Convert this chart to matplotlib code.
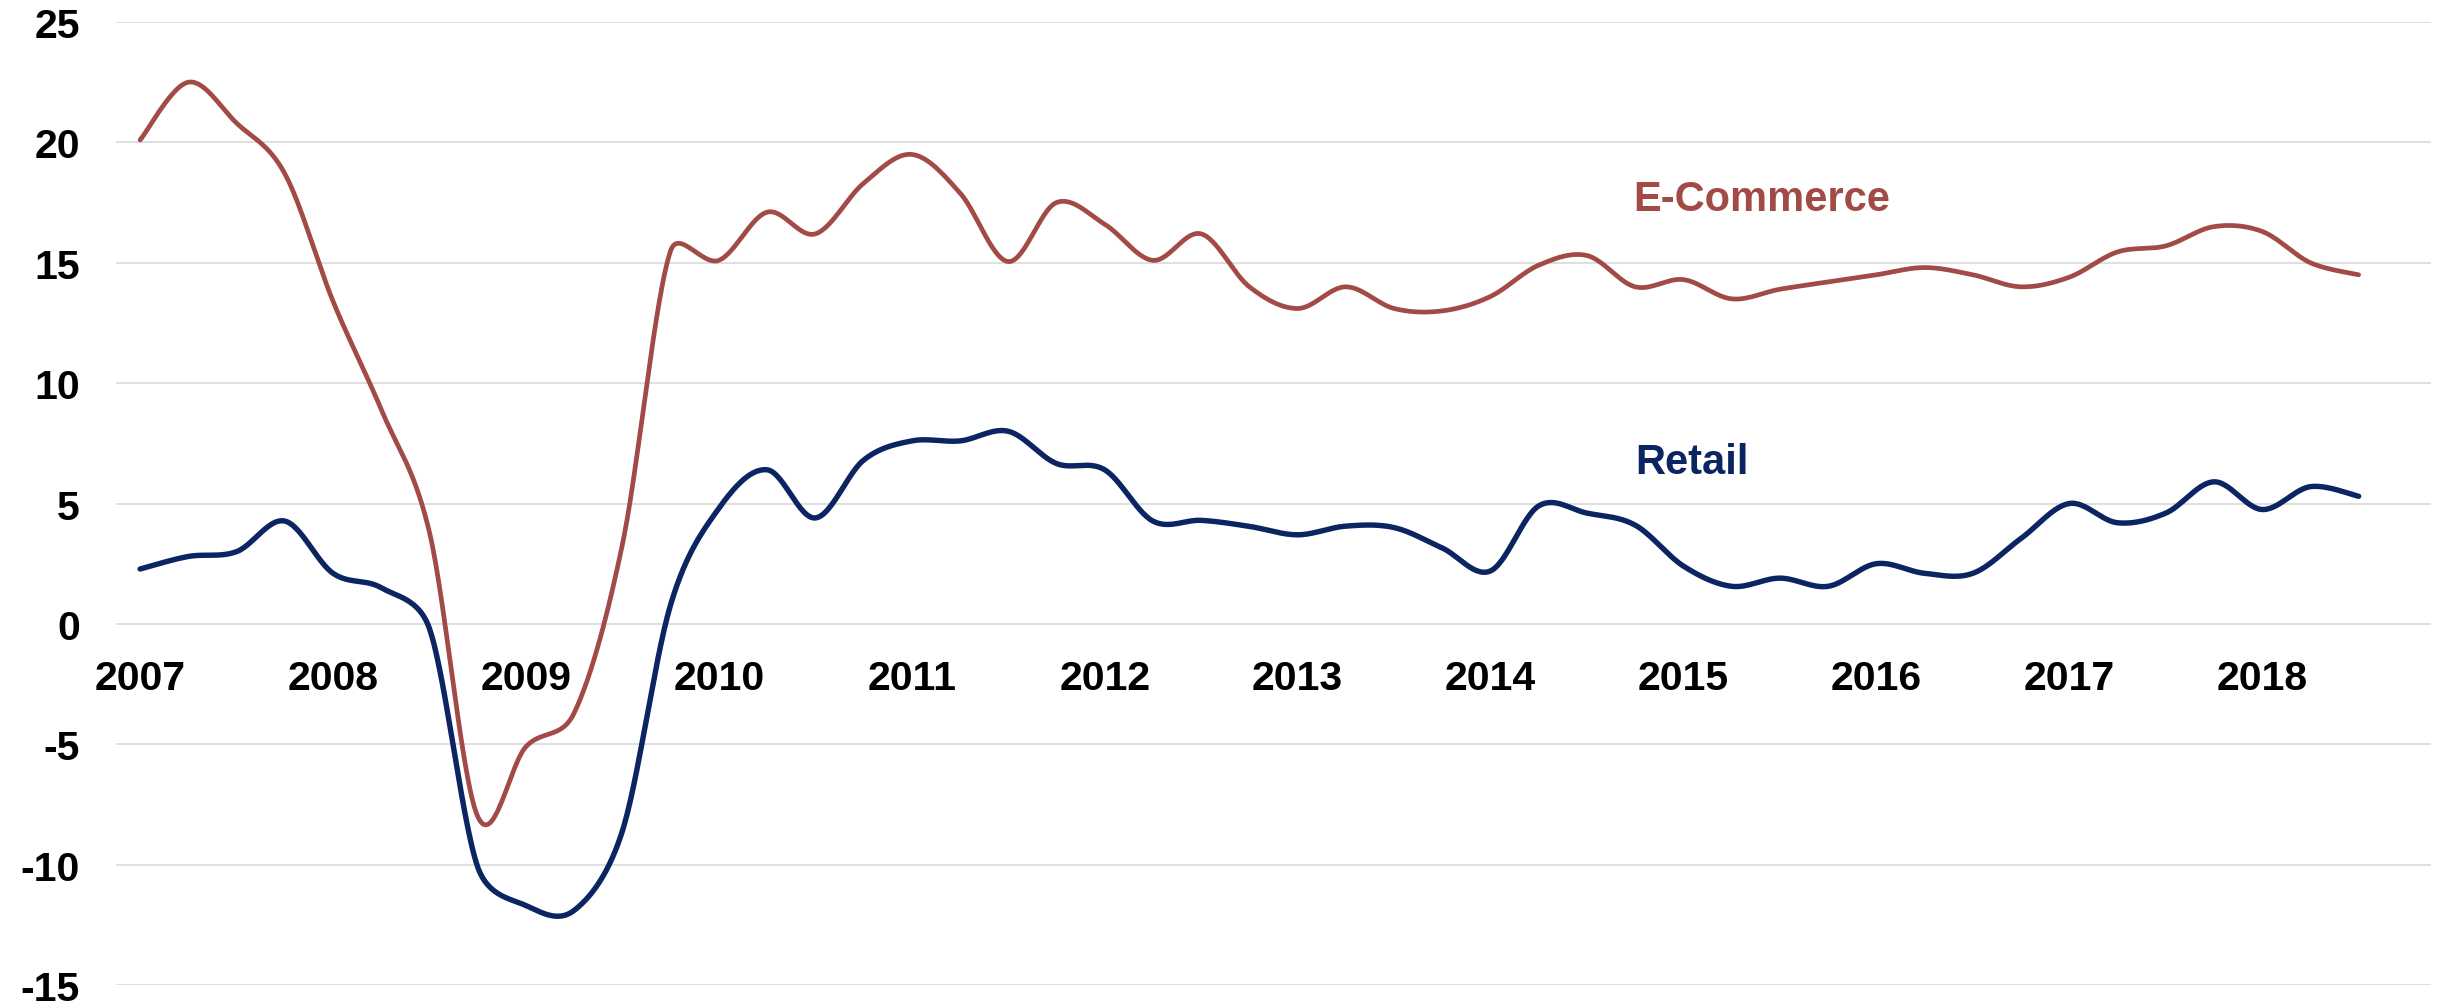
"""
Year-over-year growth: E-Commerce vs Retail (quarterly, 2007-2018)
"""

import matplotlib.pyplot as plt
import numpy as np

# quarterly values, 2007 Q1 .. 2018 Q3
ecommerce = [20.1, 22.5, 20.8, 18.7, 13.4, 8.9, 3.8, -8.0, -5.1, -3.7, 3.3, 15.5,
             15.1, 17.1, 16.2, 18.3, 19.5, 17.9, 15.05, 17.5, 16.6, 15.1, 16.2, 14.0,
             13.1, 14.0, 13.1, 13.0, 13.6, 14.9, 15.3, 14.0, 14.3, 13.5, 13.9, 14.2,
             14.5, 14.8, 14.5, 14.0, 14.4, 15.45, 15.7, 16.5, 16.3, 15.0, 14.5]
retail = [2.28, 2.8, 3.0, 4.27, 2.1, 1.5, -0.2, -10.1, -11.7, -11.9, -8.6, 0.8,
          4.8, 6.4, 4.4, 6.8, 7.6, 7.6, 8.0, 6.66, 6.4, 4.27, 4.3, 4.05,
          3.7, 4.06, 4.0, 3.15, 2.2, 4.9, 4.6, 4.1, 2.4, 1.56, 1.9, 1.56,
          2.5, 2.1, 2.1, 3.55, 5.0, 4.2, 4.6, 5.9, 4.75, 5.7, 5.3]
years = ["2007", "2008", "2009", "2010", "2011", "2012",
         "2013", "2014", "2015", "2016", "2017", "2018"]
y_ticks = [-15, -10, -5, 0, 5, 10, 15, 20, 25]

ECOM_COLOR = "#A24B46"
RETAIL_COLOR = "#0B2462"
GRID_COLOR = "#D9D9D9"
FONT = "Liberation Sans"
LABEL_SIZE = 29.5


def smooth_curve(x, y, steps=30, y_scale=0.5, limit=0.5):
    """Smoothed line through every point (Catmull-Rom Bezier, arms capped by chord)"""
    pts = np.column_stack([x, np.asarray(y, float) * y_scale]).astype(float)
    n = len(pts)
    p = np.vstack([pts[0], pts, pts[-1]])
    t = np.linspace(0, 1, steps, endpoint=False)[:, None]
    segs = []
    for i in range(1, n):
        p0, p1, p2, p3 = p[i - 1], p[i], p[i + 1], p[i + 2]
        chord = np.hypot(*(p2 - p1))
        a1 = (p2 - p0) / 6
        a2 = (p3 - p1) / 6
        for arm in (a1, a2):
            length = np.hypot(*arm)
            if length > limit * chord:
                arm *= limit * chord / length
        c1 = p1 + a1
        c2 = p2 - a2
        segs.append((1 - t) ** 3 * p1 + 3 * (1 - t) ** 2 * t * c1
                    + 3 * (1 - t) * t ** 2 * c2 + t ** 3 * p2)
    segs.append(pts[-1:])
    out = np.vstack(segs)
    return out[:, 0], out[:, 1] / y_scale


fig = plt.figure(figsize=(24.5, 10.03), dpi=100)
ax = fig.add_axes([116 / 2450, 1 - 986 / 1003, (2431 - 116) / 2450, (986 - 23) / 1003])

x = np.arange(len(ecommerce))
ex, ey = smooth_curve(x, ecommerce)
rx, ry = smooth_curve(x, retail)
ax.plot(ex, ey, color=ECOM_COLOR, lw=3.4, solid_capstyle="round", zorder=3)
ax.plot(rx, ry, color=RETAIL_COLOR, lw=3.9, solid_capstyle="round", zorder=3)

# series labels
ax.text(30.95, 17.2, "E-Commerce", color=ECOM_COLOR, fontsize=30,
        fontweight="bold", family=FONT, ha="left", va="baseline")
ax.text(31.0, 6.27, "Retail", color=RETAIL_COLOR, fontsize=30,
        fontweight="bold", family=FONT, ha="left", va="baseline")

# axes styling
ax.set_xlim(-0.5, 47.5)
ax.set_ylim(-15, 25)
ax.spines["bottom"].set_position(("data", 0))
for side in ["top", "right", "left", "bottom"]:
    ax.spines[side].set_visible(False)

ax.set_yticks(y_ticks)
ax.set_yticklabels([str(v) for v in y_ticks], fontsize=LABEL_SIZE,
                   fontweight="bold", family=FONT)
ax.set_xticks(np.arange(len(years)) * 4)
ax.set_xticklabels(years, fontsize=LABEL_SIZE, fontweight="bold", family=FONT)

ax.tick_params(axis="x", length=0, pad=25)
ax.tick_params(axis="y", length=0, pad=26)
ax.yaxis.grid(True, color=GRID_COLOR, lw=1.2)
ax.set_axisbelow(True)

fig.savefig("out.png", dpi=100, facecolor="white")
